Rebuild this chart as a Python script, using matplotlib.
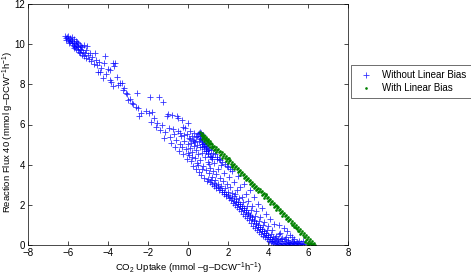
import matplotlib
matplotlib.use("Agg")
import matplotlib.pyplot as plt

plt.rcParams['font.family'] = ['Liberation Sans', 'DejaVu Sans']
plt.rcParams['mathtext.fontset'] = 'custom'
plt.rcParams['mathtext.rm'] = 'Liberation Sans'
plt.rcParams['mathtext.it'] = 'Liberation Sans:italic'

blue_pts = [
    # top-left dense cluster
    (-6.15,10.40),(-6.10,10.32),(-6.05,10.38),(-6.00,10.25),(-5.98,10.42),(-5.95,10.18),(-5.92,10.30),
    (-5.88,10.10),(-5.85,10.22),(-5.82,10.35),(-5.80,10.05),(-5.78,10.15),(-5.75,9.98),(-5.72,10.25),
    (-5.70,9.92),(-5.68,10.08),(-5.65,9.85),(-5.62,10.00),(-5.60,10.18),(-5.58,9.78),(-5.55,9.92),
    (-5.52,9.70),(-5.50,10.05),(-5.48,9.85),(-5.45,9.62),(-5.42,9.78),(-5.40,9.95),(-5.38,9.55),
    (-5.35,9.70),(-5.30,9.48),(-5.28,9.88),(-5.25,9.62),(-5.20,9.40),(-5.18,9.98),(-5.15,9.55),
    (-5.10,9.30),(-5.08,9.72),(-5.05,9.92),(-5.00,9.45),(-4.95,9.25),(-6.08,10.22),(-5.95,10.05),
    (-5.72,9.82),(-5.55,10.12),(-5.35,9.90),
    # upper band
    (-4.90,9.55),(-4.85,9.15),(-4.80,9.35),(-4.70,9.00),(-4.65,9.55),(-4.60,9.20),(-4.55,8.95),
    (-4.50,8.62),(-4.45,9.10),(-4.40,8.60),(-4.35,8.80),(-4.25,8.30),(-4.20,9.05),(-4.15,9.40),
    (-4.10,8.50),(-4.00,8.75),(-3.90,8.20),(-3.90,8.70),(-3.85,8.10),(-3.75,7.90),(-3.75,9.06),
    (-3.70,8.90),(-3.65,9.05),(-3.55,8.35),(-3.50,7.97),(-3.40,8.05),(-3.30,8.07),(-3.25,7.70),
    (-3.20,7.80),(-3.10,7.55),(-3.05,7.50),(-3.00,7.20),(-2.90,7.25),(-2.80,7.05),(-2.75,7.00),
    (-2.60,6.85),(-2.55,7.57),(-2.50,6.80),(-2.45,6.40),(-2.35,6.55),
    # middle
    (-2.10,6.65),(-1.95,6.55),(-1.90,7.37),(-1.85,6.10),(-1.80,6.60),(-1.70,6.30),(-1.60,5.90),
    (-1.55,6.05),(-1.45,7.35),(-1.40,5.75),(-1.30,6.00),(-1.25,7.10),(-1.20,5.35),(-1.15,5.65),
    (-1.05,6.40),(-1.00,6.50),(-0.95,5.85),(-0.90,5.40),(-0.85,5.10),(-0.80,6.45),(-0.75,5.80),
    (-0.70,5.55),(-0.65,4.90),(-0.60,5.25),(-0.55,6.40),(-0.50,6.30),(-0.50,5.70),(-0.45,4.70),
    (-0.40,5.05),(-0.35,5.45),(-0.30,6.20),(-0.25,4.55),(-0.25,5.90),(-0.20,5.20),(-0.15,5.85),
    (-0.10,4.80),(-0.05,4.30),(-0.05,5.55),(0.00,5.05),(0.00,6.05),
    (-0.40,5.60),(-0.20,5.50),(0.10,5.30),(0.30,5.20),(0.45,5.45),(-0.30,4.90),(0.00,4.60),
    (0.20,4.40),(0.50,4.00),(0.70,3.80),
    (0.05,4.50),(0.05,5.35),(0.10,4.85),(0.10,5.70),(0.15,4.20),(0.15,5.10),(0.20,5.45),
    (0.20,4.65),(0.25,3.95),(0.25,5.25),(0.30,4.95),(0.30,5.60),(0.35,4.35),(0.35,5.15),
    (0.40,3.80),(0.40,4.75),(0.40,5.40),(0.45,5.00),(0.45,4.10),(0.50,5.55),(0.50,4.55),
    (0.55,3.65),(0.55,5.20),(0.60,4.90),(0.60,4.25),(0.62,5.45),(0.65,3.50),(0.68,5.05),
    (0.70,4.60),(0.72,5.30),(0.75,3.95),(0.78,4.80),(0.80,5.10),(0.82,3.35),(0.85,4.40),
    (0.88,4.95),(0.90,3.75),(0.92,4.70),(0.95,3.20),(0.98,4.15),(1.00,4.75),(0.75,5.50),
    (0.65,5.58),(0.55,5.60),(0.65,5.35),(0.70,5.15),(0.80,4.95),(0.90,4.85),(1.00,4.60),
    (1.10,4.45),(1.20,4.30),(0.58,5.62),
    # just under the green band
    (0.62,5.30),(0.68,5.22),(0.75,5.05),(0.85,5.02),(0.95,4.90),(1.05,4.78),(1.15,4.72),
    (1.25,4.60),(1.35,4.52),(1.45,4.40),(1.55,4.30),(1.62,4.22),(1.72,4.12),(1.85,4.02),
    (1.98,3.88),(2.10,3.78),(0.72,4.90),(0.88,4.70),(1.02,4.55),(1.18,4.40),
    # lower band
    (1.00,3.30),(1.05,3.60),(1.05,4.05),(1.10,3.15),(1.10,3.85),(1.15,4.40),(1.20,3.40),
    (1.20,3.05),(1.25,3.70),(1.30,2.95),(1.30,4.10),(1.35,3.25),(1.40,3.55),(1.40,2.85),
    (1.45,4.30),(1.50,3.05),(1.50,3.80),(1.55,2.75),(1.60,3.35),(1.65,2.95),(1.65,4.00),
    (1.70,2.65),(1.75,3.20),(1.80,2.55),(1.80,3.60),(1.85,2.85),(1.90,2.45),(1.95,3.05),
    (1.95,3.95),(2.00,2.65),(2.05,2.35),(2.05,3.40),(2.10,2.90),(2.15,2.25),(2.20,2.60),
    (2.20,3.70),(2.25,2.10),(2.30,2.45),(2.30,3.15),(2.35,2.00),(2.40,2.30),(2.45,2.75),
    (2.45,1.90),(2.50,2.15),(2.50,3.45),(2.55,1.80),(2.60,2.05),(2.60,2.90),(2.65,1.70),
    (2.70,2.40),(2.70,1.95),(2.75,1.55),(2.80,1.85),(2.80,3.05),(2.85,1.45),(2.90,1.75),
    (2.90,2.55),(2.95,1.35),(3.00,1.60),(3.00,2.20),(3.05,1.25),(3.10,1.50),(3.10,2.75),
    (3.15,1.10),(3.20,1.40),(3.20,1.95),(3.25,0.95),(3.30,1.25),(3.30,2.40),(3.35,0.85),
    (3.40,1.10),(3.40,1.70),(3.45,0.75),(3.50,1.00),(3.50,2.05),(3.55,0.65),(3.60,0.90),
    (3.60,1.40),(3.65,0.55),(3.70,0.80),(3.70,1.85),(3.75,0.45),(3.80,0.70),(3.80,1.15),
    (3.85,0.40),(3.90,0.60),(3.90,1.55),(3.95,0.30),(4.00,0.50),(4.00,0.95),(4.05,0.22),
    (4.10,0.40),(4.10,1.30),(4.15,0.15),(4.20,0.30),(4.20,0.75),(4.25,0.08),(4.30,0.20),
    (4.30,1.05),
    (1.15,3.25),(1.28,3.10),(1.38,3.00),(1.48,2.90),(1.58,2.85),(1.68,2.75),(1.78,2.62),
    (1.88,2.55),(1.98,2.48),(2.08,2.40),(2.18,2.32),(2.28,2.20),(2.38,2.12),(2.48,2.02),
    (2.58,1.92),(2.68,1.85),(2.78,1.72),(2.88,1.62),(2.98,1.52),(3.08,1.42),(3.18,1.30),
    (3.28,1.18),(3.38,1.05),(3.48,0.92),(3.58,0.82),(3.68,0.70),(3.78,0.58),(3.88,0.48),
    (3.98,0.40),(4.08,0.30),(4.18,0.22),(3.15,1.75),(3.35,1.45),(3.55,1.20),(3.75,1.00),
    (3.95,0.75),(4.15,0.55),(4.35,0.35),(2.35,2.55),(2.55,2.35),(2.75,2.15),(2.95,1.95),
    # bottom
    (4.35,0.05),(4.40,0.15),(4.40,0.45),(4.45,0.02),(4.50,0.10),(4.50,0.30),(4.55,0.05),
    (4.60,0.20),(4.60,0.60),(4.65,0.02),(4.70,0.12),(4.70,0.35),(4.75,0.05),(4.80,0.18),
    (4.80,0.85),(4.85,0.02),(4.90,0.10),(4.90,0.40),(4.95,0.05),(5.00,0.15),(5.00,0.25),
    (5.05,0.02),(5.10,0.10),(5.10,0.50),(5.15,0.05),(5.20,0.15),(5.25,0.02),(5.30,0.10),
    (5.30,0.30),(5.35,0.05),(5.40,0.12),(5.45,0.02),(5.50,0.08),(5.55,0.20),(5.60,0.05),
    (5.70,0.03),(5.80,0.05),(4.55,1.00),(4.95,0.70),
    (4.45,0.25),(4.65,0.28),(4.85,0.30),(5.05,0.12),(5.25,0.20),(5.45,0.15),(5.65,0.10),
    (5.75,0.18),(4.25,0.40),(4.55,0.55),(5.20,0.40),
]
blue_x = [p[0] for p in blue_pts]
blue_y = [p[1] for p in blue_pts]

green_pts = [
    (0.62,5.62),(0.65,5.50),(0.68,5.58),(0.70,5.42),(0.72,5.55),(0.75,5.38),(0.78,5.50),(0.80,5.32),
    (0.82,5.45),(0.85,5.28),(0.88,5.40),(0.90,5.22),(0.92,5.35),(0.95,5.18),(0.98,5.30),(1.00,5.12),
    (1.02,5.25),(1.05,5.08),(1.08,5.18),(1.10,5.02),(1.15,5.10),(1.18,4.95),(1.22,5.02),(1.25,4.88),
    (1.30,4.95),(1.35,4.80),(1.40,4.88),(1.45,4.72),(1.50,4.80),(1.55,4.62),(1.60,4.70),(1.65,4.55),
    (1.70,4.62),(1.75,4.45),(1.80,4.52),(1.85,4.35),(1.90,4.45),(1.95,4.28),(2.00,4.32),(2.05,4.18),
    (2.10,4.25),(2.15,4.05),(2.20,4.12),(2.25,3.98),(2.30,4.02),(2.35,3.88),(2.40,3.95),(2.45,3.78),
    (2.50,3.85),(2.55,3.68),(2.60,3.75),(2.65,3.58),(2.70,3.62),(2.75,3.48),(2.80,3.55),(2.85,3.38),
    (2.90,3.45),(2.95,3.28),(3.00,3.35),(3.05,3.18),(3.10,3.25),(3.15,3.10),(3.20,3.12),(3.25,2.98),
    (3.30,3.05),(3.35,2.88),(3.40,2.95),(3.45,2.80),(3.50,2.85),(3.55,2.70),(3.60,2.78),(3.65,2.62),
    (3.70,2.68),(3.75,2.52),(3.80,2.58),(3.85,2.42),(3.90,2.50),(3.95,2.32),(4.00,2.40),(4.05,2.22),
    (4.10,2.30),(4.15,2.12),(4.20,2.18),(4.25,2.02),(4.30,2.10),(4.35,1.92),(4.40,1.98),(4.45,1.82),
    (4.50,1.88),(4.55,1.72),(4.60,1.78),(4.65,1.62),(4.70,1.70),(4.75,1.52),(4.80,1.58),(4.85,1.42),
    (4.90,1.50),(4.95,1.32),(5.00,1.40),(5.05,1.22),(5.10,1.30),(5.15,1.12),(5.20,1.18),(5.25,1.02),
    (5.30,1.10),(5.35,0.92),(5.40,0.98),(5.45,0.82),(5.50,0.90),(5.55,0.72),(5.60,0.80),(5.65,0.62),
    (5.70,0.68),(5.75,0.52),(5.80,0.58),(5.85,0.42),(5.90,0.48),(5.95,0.32),(6.00,0.38),(6.05,0.22),
    (6.10,0.28),(6.15,0.12),(6.20,0.18),(6.25,0.05),(6.30,0.08),(6.35,0.02),(6.05,0.05),(6.15,0.03),
    (5.95,0.10),(1.20,4.85),(2.20,3.95),(3.30,2.85),(4.45,1.95),(5.40,0.85),(3.90,2.55),(2.05,4.35),
    (0.70,5.30),(0.80,5.18),(0.90,5.08),(1.00,4.98),(1.12,4.90),(1.28,4.75),(1.42,4.62),(1.58,4.48),
    (1.72,4.35),(1.88,4.20),(2.02,4.08),(2.18,3.90),(2.32,3.80),(2.48,3.62),(2.62,3.50),(2.78,3.35),
    (2.92,3.22),(3.08,3.05),(3.22,2.95),(3.38,2.75),(3.52,2.65),(3.68,2.48),(3.82,2.35),(3.98,2.18),
    (4.12,2.05),(4.28,1.88),(4.42,1.75),(4.58,1.60),(4.72,1.45),(4.88,1.30),(5.02,1.18),(5.18,1.00),
    (5.32,0.88),(5.48,0.70),(5.62,0.55),(5.78,0.40),(5.92,0.25),(6.08,0.10),(6.22,0.02),(5.85,0.15),
    (6.00,0.02),
]
green_x = [p[0] for p in green_pts]
green_y = [p[1] for p in green_pts]

x_ticks = [-8, -6, -4, -2, 0, 2, 4, 6, 8]
y_ticks = [0, 2, 4, 6, 8, 10, 12]

fig = plt.figure(figsize=(4.71, 2.76), dpi=100)
ax = fig.add_axes([28/471, 31/276, 320/471, 241/276])

ax.plot(blue_x, blue_y, linestyle='none', marker='+', markersize=5, markeredgewidth=0.6,
        color=(0, 0, 1), alpha=0.8, label='Without Linear Bias')
ax.plot(green_x, green_y, linestyle='none', marker='o', markersize=1.9, markeredgewidth=0,
        color=(0, 0.5, 0), label='With Linear Bias')

ax.set_xlim(-8, 8)
ax.set_ylim(0, 12)
ax.set_xticks(x_ticks)
ax.set_yticks(y_ticks)
ax.set_xticklabels([str(t) if t >= 0 else '\u2212' + str(-t) for t in x_ticks])
ax.tick_params(direction='in', length=3, width=0.5, labelsize=7, top=True, right=True, pad=2)
for s in ax.spines.values():
    s.set_linewidth(0.5)

ax.set_xlabel('CO$_2$ Uptake (mmol \u2013g\u2013DCW$^{-1}$h$^{-1}$)', fontsize=6.8, labelpad=2)
ax.set_ylabel('Reaction Flux 40 (mmol g\u2013DCW$^{-1}$h$^{-1}$)', fontsize=6.8)
ax.yaxis.set_label_coords(-0.037, 0.47)

leg = fig.legend(loc='center', bbox_to_anchor=(411/471, 1 - 81.5/276), fontsize=7,
                 frameon=True, fancybox=False, edgecolor='black', borderpad=0.5,
                 handletextpad=0.6, labelspacing=0.3, markerscale=1.0)
leg.get_frame().set_linewidth(0.5)

fig.savefig('out.png', dpi=100)
